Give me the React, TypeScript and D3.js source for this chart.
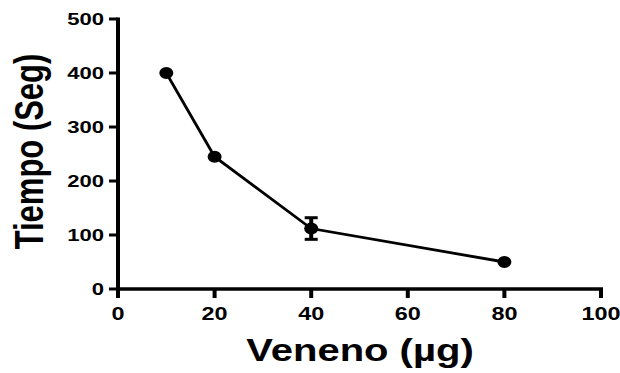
import * as d3 from 'd3';

const doses = [10, 20, 40, 80];
const tiempo = [400, 245, 112, 50];
const errors = [0, 0, 20, 0];
const xTicks = [0, 20, 40, 60, 80, 100];
const yTicks = [0, 100, 200, 300, 400, 500];

export default function App() {
  const width = 620;
  const height = 373;
  const margin = { top: 19, right: 19, bottom: 84, left: 118 };
  // the reference is stretched sideways, so text is too
  const sx = 1.3;

  const x = d3.scaleLinear().domain([0, 100]).range([margin.left, width - margin.right]);
  const y = d3.scaleLinear().domain([0, 500]).range([height - margin.bottom, margin.top]);

  const data = doses.map((d, i) => ({ dose: d, value: tiempo[i], err: errors[i] }));
  const line = d3.line<{ dose: number; value: number }>()
    .x(d => x(d.dose))
    .y(d => y(d.value));

  const font = 'Liberation Sans, Arial, sans-serif';

  return (
    <svg width={width} height={height} style={{ position: 'absolute', left: 0, top: 0 }}>
      <rect width={width} height={height} fill="#fff" />

      {/* y axis */}
      <line x1={x(0)} x2={x(0)} y1={y(0) + 1.5} y2={y(500) - 1.5} stroke="#000" strokeWidth={4} />
      {yTicks.map(t => (
        <g key={'y' + t}>
          <line x1={x(0) - 9} x2={x(0)} y1={y(t)} y2={y(t)} stroke="#000" strokeWidth={3} />
          <text transform={`translate(${x(0) - 14},${y(t)}) scale(${sx},1)`} dy="0.36em" textAnchor="end"
            fontFamily={font} fontWeight="bold" fontSize={17}>{t}</text>
        </g>
      ))}

      {/* x axis */}
      <line x1={x(0) - 2} x2={x(100) + 2} y1={y(0)} y2={y(0)} stroke="#000" strokeWidth={3.5} />
      {xTicks.map(t => (
        <g key={'x' + t}>
          <line x1={x(t)} x2={x(t)} y1={y(0)} y2={y(0) + 9} stroke="#000" strokeWidth={4} />
          <text transform={`translate(${x(t)},${y(0) + 31}) scale(${sx},1)`} textAnchor="middle"
            fontFamily={font} fontWeight="bold" fontSize={18}>{t}</text>
        </g>
      ))}

      {/* axis titles */}
      <text transform={`translate(43,151.5) scale(${sx},1) rotate(-90)`} textAnchor="middle"
        fontFamily={font} fontWeight="bold" fontSize={31}>Tiempo (Seg)</text>
      <text transform={`translate(360,361) scale(1.25,1)`} textAnchor="middle"
        fontFamily={font} fontWeight="bold" fontSize={32}>Veneno (µg)</text>

      {/* series */}
      <path d={line(data) || ''} fill="none" stroke="#000" strokeWidth={2.8} />
      {data.filter(d => d.err > 0).map(d => (
        <g key={'e' + d.dose}>
          <line x1={x(d.dose)} x2={x(d.dose)} y1={y(d.value - d.err)} y2={y(d.value + d.err)} stroke="#000" strokeWidth={4} />
          <line x1={x(d.dose) - 6.5} x2={x(d.dose) + 6.5} y1={y(d.value - d.err)} y2={y(d.value - d.err)} stroke="#000" strokeWidth={3} />
          <line x1={x(d.dose) - 6.5} x2={x(d.dose) + 6.5} y1={y(d.value + d.err)} y2={y(d.value + d.err)} stroke="#000" strokeWidth={3} />
        </g>
      ))}
      {data.map(d => (
        <ellipse key={'p' + d.dose} cx={x(d.dose)} cy={y(d.value)} rx={7} ry={6} fill="#000" />
      ))}
    </svg>
  );
}
